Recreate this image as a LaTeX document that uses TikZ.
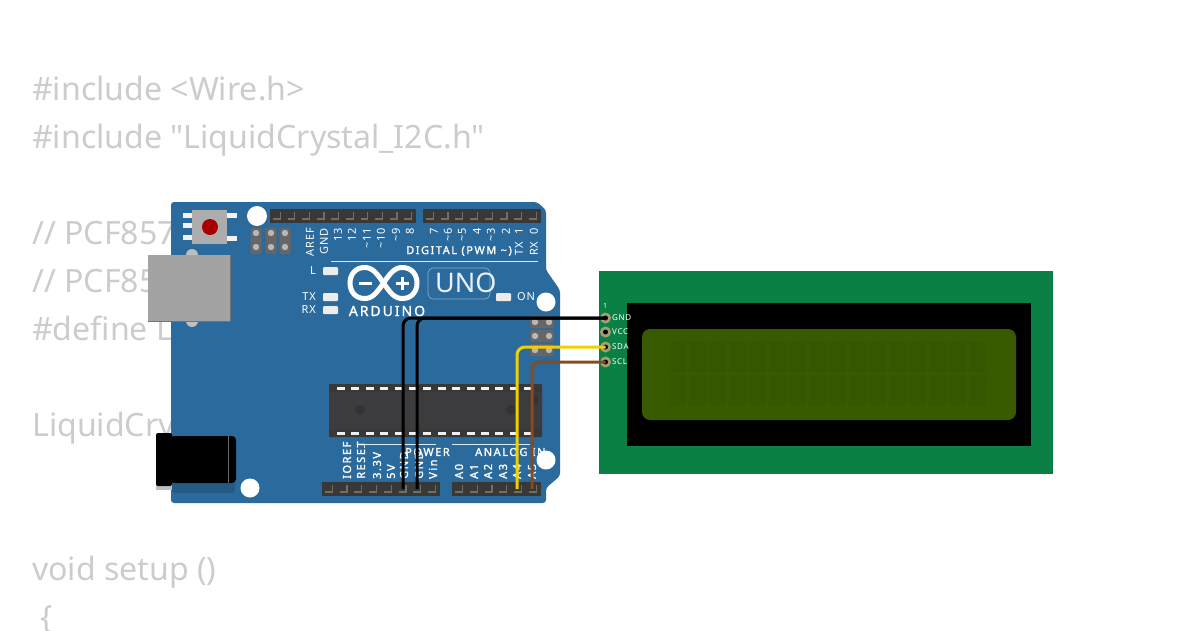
\documentclass[tikz,border=0pt]{standalone}
\usepackage{fontspec}
\setmainfont{Noto Sans}
\newfontfamily\codefont{Noto Sans}
\newfontfamily\silkfont[LetterSpace=7]{Noto Sans}
\newfontfamily\silkboldfont[LetterSpace=14,FakeBold=1.6]{Noto Sans}
\newfontfamily\lcdfont[LetterSpace=8]{Noto Sans}
\definecolor{codegray}{HTML}{CCCCCC}
\definecolor{boardblue}{HTML}{2B6A9C}
\definecolor{boardshade}{HTML}{245A85}
\definecolor{pindark}{HTML}{383836}
\definecolor{pinlight}{HTML}{6E6E6A}
\definecolor{chipgray}{HTML}{3C3C3E}
\definecolor{lcdgreen}{HTML}{0A8044}
\definecolor{lcdscreen}{HTML}{3A5A00}
\definecolor{lcdchar}{HTML}{365600}
\definecolor{padtan}{HTML}{A89B78}
\definecolor{wireyellow}{HTML}{F2CF05}
\definecolor{wirebrown}{HTML}{8B4A1C}
\tikzset{
  code/.style={anchor=base west, inner sep=0pt, text=codegray, font=\codefont\fontsize{32.1}{38}\selectfont},
  silk/.style={inner sep=0pt, text=white, font=\silkfont\fontsize{11}{12}\selectfont},
  silkbold/.style={inner sep=0pt, text=white, font=\silkboldfont\fontsize{11}{12}\selectfont},
  silkline/.style={draw=white!85!boardblue, line width=0.8pt},
  hole/.style={fill=white},
  led/.style={fill=white!85!gray, rounded corners=1pt},
  wire/.style={line width=3pt, rounded corners=8pt},
  lcdlabel/.style={anchor=west, inner sep=0pt, text=white, font=\lcdfont\fontsize{8}{9}\selectfont},
}
\newcommand{\tl}{\textasciitilde}
\begin{document}
\begin{tikzpicture}[x=1pt, y=-1pt]
  \useasboundingbox (0,0) rectangle (1200,630);
  \clip (0,0) rectangle (1200,630);

  % code behind
  \foreach \i/\y/\t in {1/100/{\#include <Wire.h>}, 2/148/{\#include \symbol{34}LiquidCrystal\_I2C.h\symbol{34}},
      3/244/{// PCF857}, 4/292/{// PCF85}, 5/340/{\#define L}, 6/436/{LiquidCry},
      7/580/{void setup ()}, 8/628/{\ \{}}
    \node[code] (code\i) at (32,\y) {\t};

  % board
  \fill[boardblue, rounded corners=3pt] (171,202) -- (537,202) -- (546,210) -- (546,270) -- (560,290)
    -- (560,476) -- (546,488) -- (546,503) -- (171,503) -- cycle;
  \fill[hole] (257,216) circle[radius=10];
  \fill[hole] (546,302) circle[radius=9.5];
  \fill[hole] (546,460) circle[radius=9.5];
  \fill[hole] (250,488) circle[radius=9.5];

  % reset button
  \foreach \y in {215,225.5,237} \fill[white!90!gray] (183,\y-2.5) rectangle (192,\y+2.5);
  \foreach \y in {215,238} \fill[white!90!gray] (227,\y-2.5) rectangle (237,\y+2.5);
  \fill[black!32] (192,210) rectangle (227,244);
  \fill[red!65!black] (210,227) circle[radius=8];

  % icsp
  \foreach \x in {256,271,285} {
    \fill[black!60, rounded corners=2pt] (\x-5.5,228) rectangle (\x+5.5,254);
    \fill[black!28] (\x,233) circle[radius=3.2];
    \fill[black!28] (\x,247) circle[radius=3.2];
  }
  \foreach \y in {322,336,350} {
    \fill[black!60, rounded corners=2pt] (530,\y-6) rectangle (554,\y+6);
    \fill[black!28] (535,\y) circle[radius=3.2];
    \fill[black!28] (549,\y) circle[radius=3.2];
  }

  % usb
  \fill[black!25] (192,255) circle[radius=6];
  \fill[black!25] (192,321) circle[radius=6];
  \fill[black!55] (148,255) rectangle (231,322);
  \fill[black!36] (148,255) rectangle (229.5,320.5);

  % headers
  \foreach \xa/\n/\p/\ya in {270/10/14.6/209, 423/8/14.75/209, 322/8/14.75/482, 452/6/14.8/482} {
    \fill[pindark] (\xa,\ya) rectangle ++(\n*\p,14);
    \pgfmathtruncatemacro{\last}{\n-1}
    \foreach \k in {0,...,\last}
      \draw[pinlight, line width=1.3pt] ({\xa+(\k+0.7)*\p},\ya+3) -- ({\xa+(\k+0.7)*\p},\ya+10) -- ({\xa+(\k+0.2)*\p},\ya+10);
  }

  % top labels
  \foreach \i/\x/\t in {1/310/AREF, 2/324/GND, 3/338/13, 4/352/12, 5/367/\tl11, 6/381/\tl10, 7/396/\tl9, 8/410/8,
      9/434/7, 10/448/\tl6, 11/462/\tl5, 12/477/4, 13/491/\tl3, 14/506/2, 15/519/TX\ \ 1, 16/534/RX\ \ 0}
    \node[silk, rotate=90, anchor=east] (top\i) at (\x,228) {\t};
  \node[silkbold, anchor=east] (digital) at (512,251) {DIGITAL (PWM \tl)};
  \draw[silkline] (331,261) -- (538,261);

  % leds
  \foreach \i/\y/\t in {1/271/L, 2/297/TX, 3/310/RX} {
    \node[silk, anchor=east] (ledtext\i) at (316,\y) {\t};
    \fill[led] (323,\y-4) rectangle (338,\y+4);
  }
  \fill[led] (496,293) rectangle (511,301);
  \node[silk, anchor=west] (ontext) at (517,297) {ON};

  % logo
  \draw[white, line width=5pt] (383.5,283) .. controls (376,272) and (372,267.5) .. (364.5,267.5)
    .. controls (355,267.5) and (350,275) .. (350,283) .. controls (350,291) and (355,298.5) .. (364.5,298.5)
    .. controls (372,298.5) and (376,294) .. (383.5,283) .. controls (391,272) and (395,267.5) .. (402.5,267.5)
    .. controls (412,267.5) and (417,275) .. (417,283) .. controls (417,291) and (412,298.5) .. (402.5,298.5)
    .. controls (395,298.5) and (391,294) .. (383.5,283) -- cycle;
  \fill[white] (359,281.5) rectangle (372,284.5);
  \fill[white] (396,281.5) rectangle (409,284.5);
  \fill[white] (401,277) rectangle (404,290);
  \node[inner sep=0pt, text=white, font=\silkboldfont\fontsize{14}{16}\selectfont] (arduino) at (387,311) {ARDUINO};
  \draw[white!45!boardblue, line width=0.7pt, rounded corners=5pt] (428,268) rectangle (490,299);
  \node[anchor=west, inner sep=0pt, text=white!90!boardblue, font=\fontsize{27}{30}\selectfont] (uno) at (435,283) {UNO};

  % chip
  \fill[pindark, rounded corners=1pt] (329,384) rectangle (542,437);
  \fill[chipgray] (329,392) rectangle (542,429);
  \foreach \k in {0,...,13} {
    \fill[white!88!gray] ({341+\k*14.4-4},386.5) rectangle ({341+\k*14.4+4},389.5);
    \fill[white!88!gray] ({341+\k*14.4-4},431.5) rectangle ({341+\k*14.4+4},434.5);
  }
  \fill[black!80] (360,410) circle[radius=5];
  \fill[black!80] (511,410) circle[radius=5];
  \fill[black!80] (538,405) arc[start angle=90, end angle=270, radius=5] -- cycle;

  % bottom labels
  \foreach \i/\x/\t in {1/347/IOREF, 2/361/RESET, 3/377/3.3V, 4/391/5V, 5/404/GND, 6/419/GND, 7/433/Vin,
      8/459/A0, 9/474/A1, 10/488/A2, 11/503/A3, 12/517/A4, 13/532/A5}
    \node[silkbold, rotate=90, anchor=west] (bot\i) at (\x,479) {\t};
  \node[silkbold, anchor=west] (powertext) at (405,452) {POWER};
  \node[silkbold, anchor=west] (analogtext) at (475,452) {ANALOG IN};
  \draw[silkline] (364,448) -- (364,444) -- (436,444);
  \draw[silkline] (452,444) -- (530,444);

  % jack
  \fill[boardshade, rounded corners=3pt] (172,470) rectangle (235,493);
  \fill[black!25] (156,480) rectangle (172,490);
  \fill[black, rounded corners=2pt] (156,433) rectangle (172,486);
  \fill[black, rounded corners=4pt] (170,436) rectangle (236,483);
  \draw[black!60, line width=0.5pt] (228,436) -- (228,483);

  % lcd
  \fill[lcdgreen] (599,271) rectangle (1053,474);
  \fill[black] (627,303) rectangle (1031,446);
  \fill[lcdscreen, rounded corners=8pt] (642,329) rectangle (1016,420);
  \foreach \k in {0,...,15} {
    \fill[lcdchar] ({669+\k*20},342) rectangle ({686+\k*20},372);
    \fill[lcdchar] ({669+\k*20},375) rectangle ({686+\k*20},406);
  }

  % pins
  \node[inner sep=0pt, text=white, font=\fontsize{7}{8}\selectfont] (pinone) at (605,306) {1};
  \foreach \n/\y/\t in {gnd/318/GND, vcc/332/VCC, sda/347/SDA, scl/362/SCL} {
    \fill[padtan] (605.5,\y) circle[radius=5.5];
    \fill[black] (605.5,\y) circle[radius=2.5];
    \coordinate (\n pin) at (605.5,\y);
    \node[lcdlabel] (\n text) at (612,\y) {\t};
  }

  % wires
  \coordinate (gndone) at (403,489);
  \coordinate (gndtwo) at (417,489);
  \coordinate (afour) at (517,489);
  \coordinate (afive) at (532,489);
  \draw[wire, black] (gndone) |- (gndpin);
  \draw[wire, black] (gndtwo) |- (gndpin);
  \draw[wire, draw=wireyellow] (afour) |- (sdapin);
  \draw[wire, draw=wirebrown] (afive) |- (sclpin);
\end{tikzpicture}
\end{document}
